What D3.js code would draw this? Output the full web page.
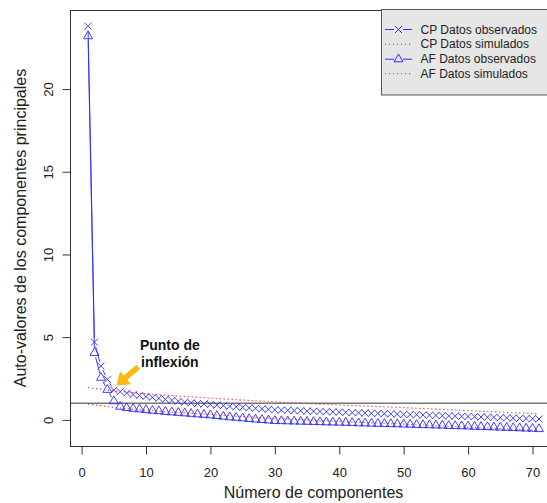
<!DOCTYPE html>
<html>
<head>
<meta charset="utf-8">
<script src="https://cdn.jsdelivr.net/npm/d3@7"></script>
<style>
  html, body { margin: 0; padding: 0; background: #fff; }
  svg { display: block; font-family: "Liberation Sans", Arial, Helvetica, sans-serif; }
</style>
</head>
<body>
<svg id="chart" width="547" height="503"></svg>
<script>
// ---------------- data ----------------
const components = d3.range(1, 72); // 1..71

const cpObserved = [23.8, 4.7, 3.25, 2.45, 1.8, 1.7, 1.62, 1.53, 1.47, 1.41,
  1.36, 1.3, 1.24, 1.18, 1.12, 1.07, 1.03, 0.99, 0.96, 0.93,
  0.89, 0.86, 0.82, 0.79, 0.76, 0.73, 0.7, 0.67, 0.64, 0.61,
  0.59, 0.58, 0.56, 0.55, 0.53, 0.52, 0.51, 0.49, 0.48, 0.47,
  0.45, 0.44, 0.43, 0.41, 0.4, 0.39, 0.37, 0.36, 0.35, 0.33,
  0.32, 0.31, 0.29, 0.28, 0.27, 0.25, 0.24, 0.23, 0.21, 0.2,
  0.19, 0.17, 0.16, 0.15, 0.13, 0.12, 0.11, 0.09, 0.08, 0.07, 0.05];

const cpSimulated = [1.94, 1.9, 1.86, 1.8, 1.76, 1.72, 1.68, 1.65, 1.61, 1.58,
  1.55, 1.52, 1.49, 1.47, 1.44, 1.42, 1.39, 1.37, 1.34, 1.32,
  1.29, 1.27, 1.25, 1.22, 1.2, 1.18, 1.15, 1.13, 1.11, 1.09,
  1.07, 1.05, 1.03, 1.01, 0.99, 0.97, 0.95, 0.94, 0.92, 0.9,
  0.88, 0.87, 0.85, 0.84, 0.82, 0.8, 0.79, 0.77, 0.76, 0.74,
  0.72, 0.7, 0.69, 0.67, 0.65, 0.63, 0.61, 0.6, 0.58, 0.56,
  0.54, 0.52, 0.51, 0.49, 0.47, 0.45, 0.43, 0.42, 0.4, 0.38, 0.36];

const afObserved = [23.2, 4.05, 2.55, 1.82, 1.13, 0.8, 0.72, 0.68, 0.64, 0.6,
  0.56, 0.53, 0.49, 0.46, 0.43, 0.4, 0.37, 0.34, 0.31, 0.28,
  0.24, 0.2, 0.16, 0.13, 0.1, 0.06, 0.03, 0.0, -0.03, -0.06,
  -0.07, -0.08, -0.09, -0.1, -0.11, -0.12, -0.13, -0.14, -0.15, -0.16,
  -0.17, -0.18, -0.2, -0.21, -0.22, -0.23, -0.24, -0.25, -0.26, -0.27,
  -0.28, -0.3, -0.31, -0.32, -0.33, -0.34, -0.36, -0.37, -0.38, -0.39,
  -0.41, -0.42, -0.43, -0.45, -0.46, -0.47, -0.49, -0.5, -0.52, -0.53, -0.55];

const afSimulated = [0.95, 0.9, 0.86, 0.8, 0.76, 0.72, 0.68, 0.65, 0.61, 0.58,
  0.55, 0.52, 0.49, 0.47, 0.44, 0.42, 0.39, 0.37, 0.34, 0.32,
  0.29, 0.27, 0.25, 0.22, 0.2, 0.18, 0.15, 0.13, 0.11, 0.09,
  0.07, 0.05, 0.03, 0.01, -0.01, -0.03, -0.05, -0.06, -0.08, -0.1,
  -0.12, -0.13, -0.15, -0.16, -0.18, -0.2, -0.21, -0.23, -0.24, -0.26,
  -0.28, -0.3, -0.31, -0.33, -0.35, -0.37, -0.39, -0.4, -0.42, -0.44,
  -0.46, -0.48, -0.49, -0.51, -0.53, -0.55, -0.57, -0.58, -0.6, -0.62, -0.64];

const xTicks = [0, 10, 20, 30, 40, 50, 60, 70];
const yTicks = [0, 5, 10, 15, 20];
const referenceLine = 1;

const legendLabels = ["CP Datos observados", "CP Datos simulados", "AF Datos observados", "AF Datos simulados"];
const xTitle = "Número de componentes";
const yTitle = "Auto-valores de los componentes principales";
const annotationLines = ["Punto de", "inflexión"];
const arrowTail = [8.8, 3.2];
const arrowTip = [5.4, 2.08];
const annotationPos = [13.7, 4.2];

// ---------------- layout ----------------
const svg = d3.select("#chart");
const plot = { left: 70, right: 557, top: 10, bottom: 446 };
const x = d3.scaleLinear().domain([-1.8, 73.8]).range([plot.left, plot.right]);
const y = d3.scaleLinear().domain([-1.58, 24.78]).range([plot.bottom, plot.top]);

const blue = "#2b2bff";
const red = "#ff2020";

// reference line at 1
svg.append("line")
  .attr("x1", plot.left).attr("x2", plot.right)
  .attr("y1", y(referenceLine)).attr("y2", y(referenceLine))
  .attr("stroke", "#777").attr("stroke-width", 1.5);

// simulated dotted lines
const line = d3.line().x((d, i) => x(components[i])).y(d => y(d));
[cpSimulated, afSimulated].forEach(s => {
  svg.append("path").attr("d", line(s))
    .attr("fill", "none").attr("stroke", red)
    .attr("stroke-width", 1.1).attr("stroke-dasharray", "1.2,2.8");
});

// observed series: type "b" (lines with gaps at points)
function drawB(series, gap) {
  const g = svg.append("g").attr("stroke", blue).attr("stroke-width", 0.9).attr("fill", "none");
  for (let i = 0; i < series.length - 1; i++) {
    const x0 = x(components[i]), y0 = y(series[i]);
    const x1 = x(components[i + 1]), y1 = y(series[i + 1]);
    const len = Math.hypot(x1 - x0, y1 - y0);
    if (len <= 2 * gap) continue;
    const ux = (x1 - x0) / len, uy = (y1 - y0) / len;
    g.append("line")
      .attr("x1", x0 + ux * gap).attr("y1", y0 + uy * gap)
      .attr("x2", x1 - ux * gap).attr("y2", y1 - uy * gap);
  }
}
function crossPath(cx, cy, r) {
  return `M${cx - r},${cy - r}L${cx + r},${cy + r}M${cx - r},${cy + r}L${cx + r},${cy - r}`;
}
function trianglePath(cx, cy, r) {
  const a = r * Math.sqrt(3) / 2;
  return `M${cx},${cy - r}L${cx + a},${cy + r / 2}L${cx - a},${cy + r / 2}Z`;
}

drawB(cpObserved, 4.5);
drawB(afObserved, 4.5);

svg.append("g").selectAll("path").data(cpObserved).join("path")
  .attr("d", (d, i) => crossPath(x(components[i]), y(d), 3.5))
  .attr("stroke", blue).attr("stroke-width", 0.9).attr("fill", "none");

svg.append("g").selectAll("path").data(afObserved).join("path")
  .attr("d", (d, i) => trianglePath(x(components[i]), y(d), 5.2))
  .attr("stroke", blue).attr("stroke-width", 0.9).attr("fill", "none");

// ---------------- box & axes ----------------
svg.append("rect")
  .attr("x", plot.left + 0.5).attr("y", plot.top + 0.5)
  .attr("width", plot.right - plot.left).attr("height", plot.bottom - plot.top)
  .attr("fill", "none").attr("stroke", "#333").attr("stroke-width", 1);

const xAxis = d3.axisBottom(x).tickValues(xTicks).tickSize(8).tickPadding(13).tickFormat(d3.format("d"));
const gx = svg.append("g").attr("transform", `translate(0,${plot.bottom + 0.5})`).call(xAxis);
gx.select(".domain").remove();
gx.selectAll("line").attr("stroke", "#333");
gx.selectAll("text").attr("font-size", 13).attr("fill", "#222")
  .attr("font-family", "Liberation Sans, Arial, sans-serif");

const yAxis = d3.axisLeft(y).tickValues(yTicks).tickSize(8).tickFormat(d3.format("d"));
const gy = svg.append("g").attr("transform", `translate(${plot.left + 0.5},0)`).call(yAxis);
gy.select(".domain").remove();
gy.selectAll("line").attr("stroke", "#333");
gy.selectAll("text").remove();
gy.selectAll(".tick").append("text")
  .attr("transform", "translate(-22,0) rotate(-90)")
  .attr("text-anchor", "middle").attr("dy", "0.35em")
  .attr("font-size", 13).attr("fill", "#222")
  .attr("font-family", "Liberation Sans, Arial, sans-serif")
  .text(d => d);

// axis titles
svg.append("text")
  .attr("x", (plot.left + plot.right) / 2).attr("y", 498)
  .attr("text-anchor", "middle").attr("font-size", 16).attr("fill", "#222")
  .text(xTitle);
svg.append("text")
  .attr("transform", `translate(26,${(plot.top + plot.bottom) / 2}) rotate(-90)`)
  .attr("text-anchor", "middle").attr("font-size", 16).attr("fill", "#222")
  .text(yTitle);

// ---------------- legend ----------------
const lg = svg.append("g");
lg.append("rect").attr("x", 381.5).attr("y", 9.5).attr("width", 200).attr("height", 85.5)
  .attr("fill", "#e6e6e6").attr("stroke", "#555").attr("stroke-width", 1);
const rowY = [29.5, 44.2, 59.2, 73.8];
const lx0 = 385, lx1 = 412, lmx = 398.5;
legendLabels.forEach((lab, i) => {
  const yy = rowY[i];
  if (i % 2 === 0) {
    lg.append("line").attr("x1", lx0).attr("x2", lmx - 4.5).attr("y1", yy).attr("y2", yy)
      .attr("stroke", blue).attr("stroke-width", 1);
    lg.append("line").attr("x1", lmx + 4.5).attr("x2", lx1).attr("y1", yy).attr("y2", yy)
      .attr("stroke", blue).attr("stroke-width", 1);
    lg.append("path")
      .attr("d", i === 0 ? crossPath(lmx, yy, 3.5) : trianglePath(lmx, yy, 5.2))
      .attr("stroke", blue).attr("stroke-width", 1).attr("fill", "none");
  } else {
    lg.append("line").attr("x1", lx0).attr("x2", lx1).attr("y1", yy).attr("y2", yy)
      .attr("stroke", red).attr("stroke-width", 1.1).attr("stroke-dasharray", "1.2,2.8");
  }
  lg.append("text").attr("x", 420.5).attr("y", yy).attr("dy", "0.35em")
    .attr("font-size", 12).attr("fill", "#222").text(lab);
});

// ---------------- annotation ----------------
const ax = svg.append("g");
annotationLines.forEach((t, i) => {
  ax.append("text")
    .attr("x", x(annotationPos[0])).attr("y", y(annotationPos[1]) + i * 17)
    .attr("text-anchor", "middle").attr("font-size", 14).attr("font-weight", "bold")
    .attr("fill", "#111").text(t);
});
(function () {
  const tx = x(arrowTail[0]), ty = y(arrowTail[1]);
  const px = x(arrowTip[0]), py = y(arrowTip[1]);
  const len = Math.hypot(px - tx, py - ty);
  const ux = (px - tx) / len, uy = (py - ty) / len;
  const nx = -uy, ny = ux;
  const sw = 2.8, hw = 8.5, hl = 12;
  const bx = px - ux * hl, by = py - uy * hl;
  const pts = [
    [tx + nx * sw, ty + ny * sw],
    [bx + nx * sw, by + ny * sw],
    [bx + nx * hw, by + ny * hw],
    [px, py],
    [bx - nx * hw, by - ny * hw],
    [bx - nx * sw, by - ny * sw],
    [tx - nx * sw, ty - ny * sw]
  ];
  ax.append("path").attr("d", "M" + pts.map(p => p.join(",")).join("L") + "Z")
    .attr("fill", "#fbb713").attr("stroke", "none");
})();
</script>
</body>
</html>
